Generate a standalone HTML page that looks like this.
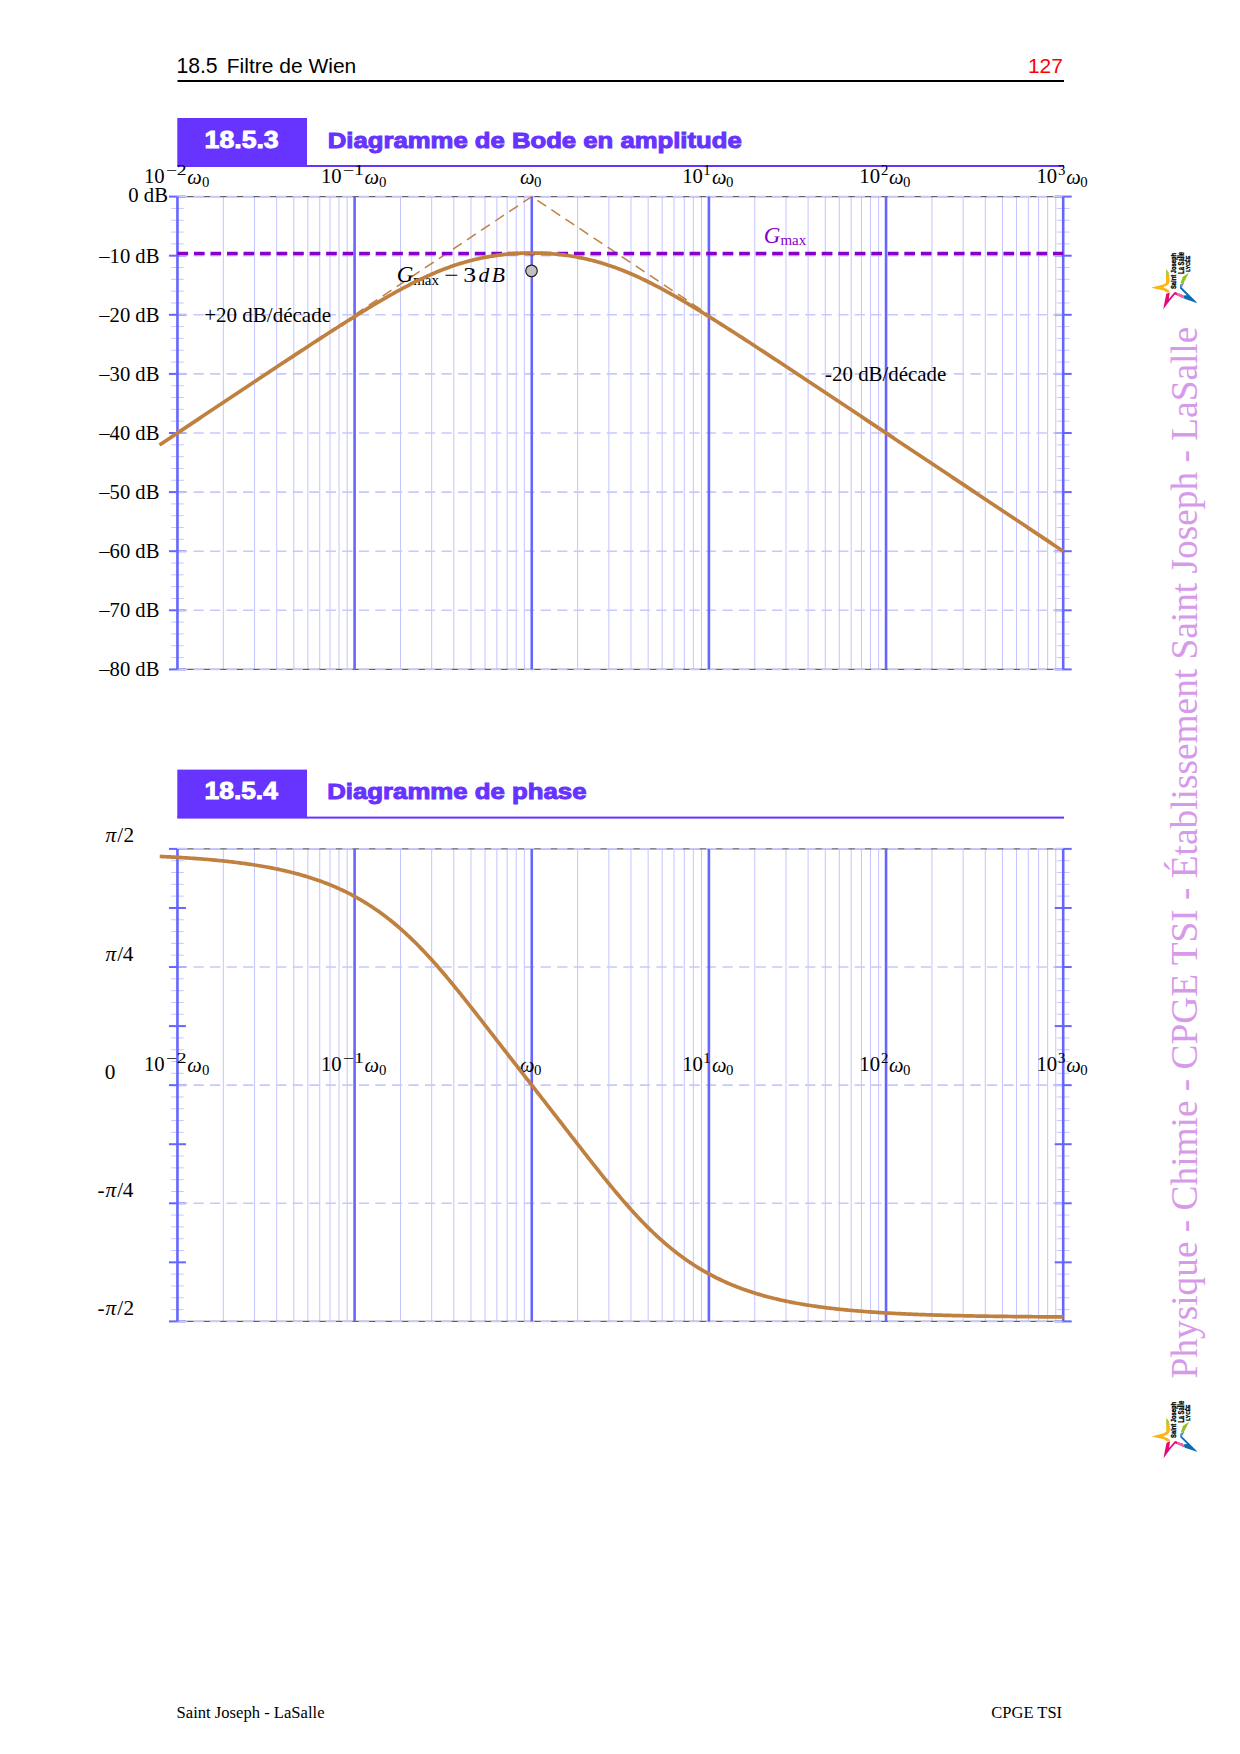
<!DOCTYPE html>
<html><head><meta charset="utf-8"><title>18.5 Filtre de Wien</title>
<style>html,body{margin:0;padding:0;background:#fff;width:1240px;height:1754px;overflow:hidden;position:relative}</style>
</head><body>
<svg width="1240" height="1754" viewBox="0 0 1240 1754" style="position:absolute;left:0;top:0"><rect width="1240" height="1754" fill="#fff"/><text x="176.39" y="73.10" font-family='"Liberation Sans", sans-serif' font-size="21.20" fill="#000" >18.5</text><text x="226.78" y="73.10" font-family='"Liberation Sans", sans-serif' font-size="21.00" fill="#000" >Filtre de Wien</text><text x="1027.92" y="73.10" font-family='"Liberation Sans", sans-serif' font-size="21.00" fill="#ff0000" >127</text><rect x="177.5" y="80" width="886.5" height="2" fill="#000"/><rect x="177.3" y="118.00" width="129.7" height="48" fill="#6633ff"/><rect x="177.3" y="165.00" width="886.7" height="2" fill="#6633ff"/><text x="0" y="0" transform="matrix(1.1595 0 0 1 204.57 147.55)" font-family='"Liberation Sans", sans-serif' font-size="23.00" font-weight="bold" fill="#fff" stroke="#fff" stroke-width="0.9">18.5.3</text><text x="0" y="0" transform="matrix(1.1472 0 0 1 327.78 147.50)" font-family='"Liberation Sans", sans-serif' font-size="22.40" font-weight="bold" fill="#6633ff" stroke="#6633ff" stroke-width="1.0">Diagramme de Bode en amplitude</text><rect x="177.3" y="769.60" width="129.7" height="48" fill="#6633ff"/><rect x="177.3" y="816.60" width="886.7" height="2" fill="#6633ff"/><text x="0" y="0" transform="matrix(1.1463 0 0 1 204.59 799.15)" font-family='"Liberation Sans", sans-serif' font-size="23.00" font-weight="bold" fill="#fff" stroke="#fff" stroke-width="0.9">18.5.4</text><text x="0" y="0" transform="matrix(1.1517 0 0 1 327.17 799.10)" font-family='"Liberation Sans", sans-serif' font-size="22.40" font-weight="bold" fill="#6633ff" stroke="#6633ff" stroke-width="1.0">Diagramme de phase</text><line x1="223.34" y1="196.60" x2="223.34" y2="669.40" stroke="#c4c4ff" stroke-width="1"/><line x1="254.53" y1="196.60" x2="254.53" y2="669.40" stroke="#c4c4ff" stroke-width="1"/><line x1="276.66" y1="196.60" x2="276.66" y2="669.40" stroke="#c4c4ff" stroke-width="1"/><line x1="293.83" y1="196.60" x2="293.83" y2="669.40" stroke="#c4c4ff" stroke-width="1"/><line x1="307.86" y1="196.60" x2="307.86" y2="669.40" stroke="#c4c4ff" stroke-width="1"/><line x1="319.72" y1="196.60" x2="319.72" y2="669.40" stroke="#c4c4ff" stroke-width="1"/><line x1="329.99" y1="196.60" x2="329.99" y2="669.40" stroke="#c4c4ff" stroke-width="1"/><line x1="339.05" y1="196.60" x2="339.05" y2="669.40" stroke="#c4c4ff" stroke-width="1"/><line x1="347.16" y1="196.60" x2="347.16" y2="669.40" stroke="#c4c4ff" stroke-width="1"/><line x1="400.49" y1="196.60" x2="400.49" y2="669.40" stroke="#c4c4ff" stroke-width="1"/><line x1="431.68" y1="196.60" x2="431.68" y2="669.40" stroke="#c4c4ff" stroke-width="1"/><line x1="453.81" y1="196.60" x2="453.81" y2="669.40" stroke="#c4c4ff" stroke-width="1"/><line x1="470.98" y1="196.60" x2="470.98" y2="669.40" stroke="#c4c4ff" stroke-width="1"/><line x1="485.01" y1="196.60" x2="485.01" y2="669.40" stroke="#c4c4ff" stroke-width="1"/><line x1="496.87" y1="196.60" x2="496.87" y2="669.40" stroke="#c4c4ff" stroke-width="1"/><line x1="507.14" y1="196.60" x2="507.14" y2="669.40" stroke="#c4c4ff" stroke-width="1"/><line x1="516.20" y1="196.60" x2="516.20" y2="669.40" stroke="#c4c4ff" stroke-width="1"/><line x1="524.31" y1="196.60" x2="524.31" y2="669.40" stroke="#c4c4ff" stroke-width="1"/><line x1="577.64" y1="196.60" x2="577.64" y2="669.40" stroke="#c4c4ff" stroke-width="1"/><line x1="608.83" y1="196.60" x2="608.83" y2="669.40" stroke="#c4c4ff" stroke-width="1"/><line x1="630.96" y1="196.60" x2="630.96" y2="669.40" stroke="#c4c4ff" stroke-width="1"/><line x1="648.13" y1="196.60" x2="648.13" y2="669.40" stroke="#c4c4ff" stroke-width="1"/><line x1="662.16" y1="196.60" x2="662.16" y2="669.40" stroke="#c4c4ff" stroke-width="1"/><line x1="674.02" y1="196.60" x2="674.02" y2="669.40" stroke="#c4c4ff" stroke-width="1"/><line x1="684.29" y1="196.60" x2="684.29" y2="669.40" stroke="#c4c4ff" stroke-width="1"/><line x1="693.35" y1="196.60" x2="693.35" y2="669.40" stroke="#c4c4ff" stroke-width="1"/><line x1="701.46" y1="196.60" x2="701.46" y2="669.40" stroke="#c4c4ff" stroke-width="1"/><line x1="754.79" y1="196.60" x2="754.79" y2="669.40" stroke="#c4c4ff" stroke-width="1"/><line x1="785.98" y1="196.60" x2="785.98" y2="669.40" stroke="#c4c4ff" stroke-width="1"/><line x1="808.11" y1="196.60" x2="808.11" y2="669.40" stroke="#c4c4ff" stroke-width="1"/><line x1="825.28" y1="196.60" x2="825.28" y2="669.40" stroke="#c4c4ff" stroke-width="1"/><line x1="839.31" y1="196.60" x2="839.31" y2="669.40" stroke="#c4c4ff" stroke-width="1"/><line x1="851.17" y1="196.60" x2="851.17" y2="669.40" stroke="#c4c4ff" stroke-width="1"/><line x1="861.44" y1="196.60" x2="861.44" y2="669.40" stroke="#c4c4ff" stroke-width="1"/><line x1="870.50" y1="196.60" x2="870.50" y2="669.40" stroke="#c4c4ff" stroke-width="1"/><line x1="878.61" y1="196.60" x2="878.61" y2="669.40" stroke="#c4c4ff" stroke-width="1"/><line x1="931.94" y1="196.60" x2="931.94" y2="669.40" stroke="#c4c4ff" stroke-width="1"/><line x1="963.13" y1="196.60" x2="963.13" y2="669.40" stroke="#c4c4ff" stroke-width="1"/><line x1="985.26" y1="196.60" x2="985.26" y2="669.40" stroke="#c4c4ff" stroke-width="1"/><line x1="1002.43" y1="196.60" x2="1002.43" y2="669.40" stroke="#c4c4ff" stroke-width="1"/><line x1="1016.46" y1="196.60" x2="1016.46" y2="669.40" stroke="#c4c4ff" stroke-width="1"/><line x1="1028.32" y1="196.60" x2="1028.32" y2="669.40" stroke="#c4c4ff" stroke-width="1"/><line x1="1038.59" y1="196.60" x2="1038.59" y2="669.40" stroke="#c4c4ff" stroke-width="1"/><line x1="1047.65" y1="196.60" x2="1047.65" y2="669.40" stroke="#c4c4ff" stroke-width="1"/><line x1="1055.76" y1="196.60" x2="1055.76" y2="669.40" stroke="#c4c4ff" stroke-width="1"/><line x1="168.95" y1="196.60" x2="185.95" y2="196.60" stroke="#6666ff" stroke-width="2"/><line x1="168.95" y1="255.70" x2="185.95" y2="255.70" stroke="#6666ff" stroke-width="2"/><line x1="168.95" y1="314.80" x2="185.95" y2="314.80" stroke="#6666ff" stroke-width="2"/><line x1="168.95" y1="373.90" x2="185.95" y2="373.90" stroke="#6666ff" stroke-width="2"/><line x1="168.95" y1="433.00" x2="185.95" y2="433.00" stroke="#6666ff" stroke-width="2"/><line x1="168.95" y1="492.10" x2="185.95" y2="492.10" stroke="#6666ff" stroke-width="2"/><line x1="168.95" y1="551.20" x2="185.95" y2="551.20" stroke="#6666ff" stroke-width="2"/><line x1="168.95" y1="610.30" x2="185.95" y2="610.30" stroke="#6666ff" stroke-width="2"/><line x1="168.95" y1="669.40" x2="185.95" y2="669.40" stroke="#6666ff" stroke-width="2"/><line x1="171.15" y1="208.42" x2="183.75" y2="208.42" stroke="#c0c0ff" stroke-width="0.9"/><line x1="171.15" y1="220.24" x2="183.75" y2="220.24" stroke="#c0c0ff" stroke-width="0.9"/><line x1="171.15" y1="232.06" x2="183.75" y2="232.06" stroke="#c0c0ff" stroke-width="0.9"/><line x1="171.15" y1="243.88" x2="183.75" y2="243.88" stroke="#c0c0ff" stroke-width="0.9"/><line x1="171.15" y1="267.52" x2="183.75" y2="267.52" stroke="#c0c0ff" stroke-width="0.9"/><line x1="171.15" y1="279.34" x2="183.75" y2="279.34" stroke="#c0c0ff" stroke-width="0.9"/><line x1="171.15" y1="291.16" x2="183.75" y2="291.16" stroke="#c0c0ff" stroke-width="0.9"/><line x1="171.15" y1="302.98" x2="183.75" y2="302.98" stroke="#c0c0ff" stroke-width="0.9"/><line x1="171.15" y1="326.62" x2="183.75" y2="326.62" stroke="#c0c0ff" stroke-width="0.9"/><line x1="171.15" y1="338.44" x2="183.75" y2="338.44" stroke="#c0c0ff" stroke-width="0.9"/><line x1="171.15" y1="350.26" x2="183.75" y2="350.26" stroke="#c0c0ff" stroke-width="0.9"/><line x1="171.15" y1="362.08" x2="183.75" y2="362.08" stroke="#c0c0ff" stroke-width="0.9"/><line x1="171.15" y1="385.72" x2="183.75" y2="385.72" stroke="#c0c0ff" stroke-width="0.9"/><line x1="171.15" y1="397.54" x2="183.75" y2="397.54" stroke="#c0c0ff" stroke-width="0.9"/><line x1="171.15" y1="409.36" x2="183.75" y2="409.36" stroke="#c0c0ff" stroke-width="0.9"/><line x1="171.15" y1="421.18" x2="183.75" y2="421.18" stroke="#c0c0ff" stroke-width="0.9"/><line x1="171.15" y1="444.82" x2="183.75" y2="444.82" stroke="#c0c0ff" stroke-width="0.9"/><line x1="171.15" y1="456.64" x2="183.75" y2="456.64" stroke="#c0c0ff" stroke-width="0.9"/><line x1="171.15" y1="468.46" x2="183.75" y2="468.46" stroke="#c0c0ff" stroke-width="0.9"/><line x1="171.15" y1="480.28" x2="183.75" y2="480.28" stroke="#c0c0ff" stroke-width="0.9"/><line x1="171.15" y1="503.92" x2="183.75" y2="503.92" stroke="#c0c0ff" stroke-width="0.9"/><line x1="171.15" y1="515.74" x2="183.75" y2="515.74" stroke="#c0c0ff" stroke-width="0.9"/><line x1="171.15" y1="527.56" x2="183.75" y2="527.56" stroke="#c0c0ff" stroke-width="0.9"/><line x1="171.15" y1="539.38" x2="183.75" y2="539.38" stroke="#c0c0ff" stroke-width="0.9"/><line x1="171.15" y1="563.02" x2="183.75" y2="563.02" stroke="#c0c0ff" stroke-width="0.9"/><line x1="171.15" y1="574.84" x2="183.75" y2="574.84" stroke="#c0c0ff" stroke-width="0.9"/><line x1="171.15" y1="586.66" x2="183.75" y2="586.66" stroke="#c0c0ff" stroke-width="0.9"/><line x1="171.15" y1="598.48" x2="183.75" y2="598.48" stroke="#c0c0ff" stroke-width="0.9"/><line x1="171.15" y1="622.12" x2="183.75" y2="622.12" stroke="#c0c0ff" stroke-width="0.9"/><line x1="171.15" y1="633.94" x2="183.75" y2="633.94" stroke="#c0c0ff" stroke-width="0.9"/><line x1="171.15" y1="645.76" x2="183.75" y2="645.76" stroke="#c0c0ff" stroke-width="0.9"/><line x1="171.15" y1="657.58" x2="183.75" y2="657.58" stroke="#c0c0ff" stroke-width="0.9"/><line x1="1054.70" y1="196.60" x2="1071.70" y2="196.60" stroke="#6666ff" stroke-width="2"/><line x1="1054.70" y1="255.70" x2="1071.70" y2="255.70" stroke="#6666ff" stroke-width="2"/><line x1="1054.70" y1="314.80" x2="1071.70" y2="314.80" stroke="#6666ff" stroke-width="2"/><line x1="1054.70" y1="373.90" x2="1071.70" y2="373.90" stroke="#6666ff" stroke-width="2"/><line x1="1054.70" y1="433.00" x2="1071.70" y2="433.00" stroke="#6666ff" stroke-width="2"/><line x1="1054.70" y1="492.10" x2="1071.70" y2="492.10" stroke="#6666ff" stroke-width="2"/><line x1="1054.70" y1="551.20" x2="1071.70" y2="551.20" stroke="#6666ff" stroke-width="2"/><line x1="1054.70" y1="610.30" x2="1071.70" y2="610.30" stroke="#6666ff" stroke-width="2"/><line x1="1054.70" y1="669.40" x2="1071.70" y2="669.40" stroke="#6666ff" stroke-width="2"/><line x1="1056.90" y1="208.42" x2="1069.50" y2="208.42" stroke="#c0c0ff" stroke-width="0.9"/><line x1="1056.90" y1="220.24" x2="1069.50" y2="220.24" stroke="#c0c0ff" stroke-width="0.9"/><line x1="1056.90" y1="232.06" x2="1069.50" y2="232.06" stroke="#c0c0ff" stroke-width="0.9"/><line x1="1056.90" y1="243.88" x2="1069.50" y2="243.88" stroke="#c0c0ff" stroke-width="0.9"/><line x1="1056.90" y1="267.52" x2="1069.50" y2="267.52" stroke="#c0c0ff" stroke-width="0.9"/><line x1="1056.90" y1="279.34" x2="1069.50" y2="279.34" stroke="#c0c0ff" stroke-width="0.9"/><line x1="1056.90" y1="291.16" x2="1069.50" y2="291.16" stroke="#c0c0ff" stroke-width="0.9"/><line x1="1056.90" y1="302.98" x2="1069.50" y2="302.98" stroke="#c0c0ff" stroke-width="0.9"/><line x1="1056.90" y1="326.62" x2="1069.50" y2="326.62" stroke="#c0c0ff" stroke-width="0.9"/><line x1="1056.90" y1="338.44" x2="1069.50" y2="338.44" stroke="#c0c0ff" stroke-width="0.9"/><line x1="1056.90" y1="350.26" x2="1069.50" y2="350.26" stroke="#c0c0ff" stroke-width="0.9"/><line x1="1056.90" y1="362.08" x2="1069.50" y2="362.08" stroke="#c0c0ff" stroke-width="0.9"/><line x1="1056.90" y1="385.72" x2="1069.50" y2="385.72" stroke="#c0c0ff" stroke-width="0.9"/><line x1="1056.90" y1="397.54" x2="1069.50" y2="397.54" stroke="#c0c0ff" stroke-width="0.9"/><line x1="1056.90" y1="409.36" x2="1069.50" y2="409.36" stroke="#c0c0ff" stroke-width="0.9"/><line x1="1056.90" y1="421.18" x2="1069.50" y2="421.18" stroke="#c0c0ff" stroke-width="0.9"/><line x1="1056.90" y1="444.82" x2="1069.50" y2="444.82" stroke="#c0c0ff" stroke-width="0.9"/><line x1="1056.90" y1="456.64" x2="1069.50" y2="456.64" stroke="#c0c0ff" stroke-width="0.9"/><line x1="1056.90" y1="468.46" x2="1069.50" y2="468.46" stroke="#c0c0ff" stroke-width="0.9"/><line x1="1056.90" y1="480.28" x2="1069.50" y2="480.28" stroke="#c0c0ff" stroke-width="0.9"/><line x1="1056.90" y1="503.92" x2="1069.50" y2="503.92" stroke="#c0c0ff" stroke-width="0.9"/><line x1="1056.90" y1="515.74" x2="1069.50" y2="515.74" stroke="#c0c0ff" stroke-width="0.9"/><line x1="1056.90" y1="527.56" x2="1069.50" y2="527.56" stroke="#c0c0ff" stroke-width="0.9"/><line x1="1056.90" y1="539.38" x2="1069.50" y2="539.38" stroke="#c0c0ff" stroke-width="0.9"/><line x1="1056.90" y1="563.02" x2="1069.50" y2="563.02" stroke="#c0c0ff" stroke-width="0.9"/><line x1="1056.90" y1="574.84" x2="1069.50" y2="574.84" stroke="#c0c0ff" stroke-width="0.9"/><line x1="1056.90" y1="586.66" x2="1069.50" y2="586.66" stroke="#c0c0ff" stroke-width="0.9"/><line x1="1056.90" y1="598.48" x2="1069.50" y2="598.48" stroke="#c0c0ff" stroke-width="0.9"/><line x1="1056.90" y1="622.12" x2="1069.50" y2="622.12" stroke="#c0c0ff" stroke-width="0.9"/><line x1="1056.90" y1="633.94" x2="1069.50" y2="633.94" stroke="#c0c0ff" stroke-width="0.9"/><line x1="1056.90" y1="645.76" x2="1069.50" y2="645.76" stroke="#c0c0ff" stroke-width="0.9"/><line x1="1056.90" y1="657.58" x2="1069.50" y2="657.58" stroke="#c0c0ff" stroke-width="0.9"/><line x1="177.45" y1="196.60" x2="1063.20" y2="196.60" stroke="#606060" stroke-width="1.3"/><line x1="176.95" y1="196.60" x2="1063.20" y2="196.60" stroke="#c8c8ff" stroke-width="1.6" stroke-dasharray="10.3 6.23"/><line x1="177.45" y1="669.40" x2="1063.20" y2="669.40" stroke="#606060" stroke-width="1.3"/><line x1="176.95" y1="669.40" x2="1063.20" y2="669.40" stroke="#c8c8ff" stroke-width="1.6" stroke-dasharray="10.3 6.23"/><line x1="176.95" y1="255.70" x2="1063.20" y2="255.70" stroke="#c8c8ff" stroke-width="1.6" stroke-dasharray="10.3 6.23"/><line x1="176.95" y1="314.80" x2="1063.20" y2="314.80" stroke="#c8c8ff" stroke-width="1.6" stroke-dasharray="10.3 6.23"/><line x1="176.95" y1="373.90" x2="1063.20" y2="373.90" stroke="#c8c8ff" stroke-width="1.6" stroke-dasharray="10.3 6.23"/><line x1="176.95" y1="433.00" x2="1063.20" y2="433.00" stroke="#c8c8ff" stroke-width="1.6" stroke-dasharray="10.3 6.23"/><line x1="176.95" y1="492.10" x2="1063.20" y2="492.10" stroke="#c8c8ff" stroke-width="1.6" stroke-dasharray="10.3 6.23"/><line x1="176.95" y1="551.20" x2="1063.20" y2="551.20" stroke="#c8c8ff" stroke-width="1.6" stroke-dasharray="10.3 6.23"/><line x1="176.95" y1="610.30" x2="1063.20" y2="610.30" stroke="#c8c8ff" stroke-width="1.6" stroke-dasharray="10.3 6.23"/><line x1="177.45" y1="196.60" x2="177.45" y2="669.40" stroke="#6666ff" stroke-width="2.6"/><line x1="354.60" y1="196.60" x2="354.60" y2="669.40" stroke="#6666ff" stroke-width="2.6"/><line x1="531.75" y1="196.60" x2="531.75" y2="669.40" stroke="#6666ff" stroke-width="2.6"/><line x1="708.90" y1="196.60" x2="708.90" y2="669.40" stroke="#6666ff" stroke-width="2.6"/><line x1="886.05" y1="196.60" x2="886.05" y2="669.40" stroke="#6666ff" stroke-width="2.6"/><line x1="1063.20" y1="196.60" x2="1063.20" y2="669.40" stroke="#6666ff" stroke-width="2.6"/><text x="143.88" y="183.20" font-family='"Liberation Serif", serif' font-size="20.70" fill="#000" >10</text><text x="0" y="0" transform="matrix(1.3316 0 0 1 165.72 175.00)" font-family='"Liberation Serif", serif' font-size="14.80" fill="#000" >−2</text><text x="187.32" y="183.80" font-family='"Liberation Serif", serif' font-size="20.50" font-style="italic" fill="#000" >ω</text><text x="201.89" y="186.80" font-family='"Liberation Serif", serif' font-size="14.80" fill="#000" >0</text><text x="321.03" y="183.20" font-family='"Liberation Serif", serif' font-size="20.70" fill="#000" >10</text><text x="0" y="0" transform="matrix(1.3385 0 0 1 342.86 175.00)" font-family='"Liberation Serif", serif' font-size="14.80" fill="#000" >−1</text><text x="364.47" y="183.80" font-family='"Liberation Serif", serif' font-size="20.50" font-style="italic" fill="#000" >ω</text><text x="379.04" y="186.80" font-family='"Liberation Serif", serif' font-size="14.80" fill="#000" >0</text><text x="520.12" y="183.80" font-family='"Liberation Serif", serif' font-size="20.50" font-style="italic" fill="#000" >ω</text><text x="534.04" y="186.80" font-family='"Liberation Serif", serif' font-size="14.80" fill="#000" >0</text><text x="682.18" y="183.20" font-family='"Liberation Serif", serif' font-size="20.70" fill="#000" >10</text><text x="703.15" y="175.00" font-family='"Liberation Serif", serif' font-size="14.80" fill="#000" >1</text><text x="711.97" y="183.80" font-family='"Liberation Serif", serif' font-size="20.50" font-style="italic" fill="#000" >ω</text><text x="725.94" y="186.80" font-family='"Liberation Serif", serif' font-size="14.80" fill="#000" >0</text><text x="859.33" y="183.20" font-family='"Liberation Serif", serif' font-size="20.70" fill="#000" >10</text><text x="880.95" y="175.00" font-family='"Liberation Serif", serif' font-size="14.80" fill="#000" >2</text><text x="889.12" y="183.80" font-family='"Liberation Serif", serif' font-size="20.50" font-style="italic" fill="#000" >ω</text><text x="903.09" y="186.80" font-family='"Liberation Serif", serif' font-size="14.80" fill="#000" >0</text><text x="1036.48" y="183.20" font-family='"Liberation Serif", serif' font-size="20.70" fill="#000" >10</text><text x="1058.04" y="175.00" font-family='"Liberation Serif", serif' font-size="14.80" fill="#000" >3</text><text x="1066.27" y="183.80" font-family='"Liberation Serif", serif' font-size="20.50" font-style="italic" fill="#000" >ω</text><text x="1080.24" y="186.80" font-family='"Liberation Serif", serif' font-size="14.80" fill="#000" >0</text><text x="128.33" y="201.80" font-family='"Liberation Serif", serif' font-size="20.70" fill="#000" >0 dB</text><text x="99.32" y="263.30" font-family='"Liberation Serif", serif' font-size="20.60" fill="#000" >–10 dB</text><text x="99.32" y="322.22" font-family='"Liberation Serif", serif' font-size="20.60" fill="#000" >–20 dB</text><text x="99.32" y="381.14" font-family='"Liberation Serif", serif' font-size="20.60" fill="#000" >–30 dB</text><text x="99.32" y="440.06" font-family='"Liberation Serif", serif' font-size="20.60" fill="#000" >–40 dB</text><text x="99.32" y="498.98" font-family='"Liberation Serif", serif' font-size="20.60" fill="#000" >–50 dB</text><text x="99.32" y="557.90" font-family='"Liberation Serif", serif' font-size="20.60" fill="#000" >–60 dB</text><text x="99.32" y="616.82" font-family='"Liberation Serif", serif' font-size="20.60" fill="#000" >–70 dB</text><text x="99.32" y="675.74" font-family='"Liberation Serif", serif' font-size="20.60" fill="#000" >–80 dB</text><polyline points="354.60,314.80 531.75,196.60 708.90,314.80" fill="none" stroke="#bf8040" stroke-width="1.5" stroke-dasharray="10.5 6.4"/><line x1="177.45" y1="253.50" x2="1063.20" y2="253.50" stroke="#8800cc" stroke-width="3.3" stroke-dasharray="10.7 5.82"/><text x="396.63" y="281.60" font-family='"Liberation Serif", serif' font-size="23.00" font-style="italic" fill="#000" >G</text><text x="413.19" y="284.60" font-family='"Liberation Serif", serif' font-size="15.00" fill="#000" >max</text><text x="0" y="0" transform="matrix(1.2000 0 0 1 444.34 281.60)" font-family='"Liberation Serif", serif' font-size="21.00" fill="#000" >−</text><text x="0" y="0" transform="matrix(1.2000 0 0 1 463.17 281.60)" font-family='"Liberation Serif", serif' font-size="21.50" fill="#000" >3</text><text x="478.55" y="281.60" font-family='"Liberation Serif", serif' font-size="21.50" font-style="italic" fill="#000" >d</text><text x="491.74" y="281.60" font-family='"Liberation Serif", serif' font-size="21.50" font-style="italic" fill="#000" >B</text><polyline points="159.56,444.95 161.06,443.95 162.57,442.94 164.08,441.94 165.58,440.93 167.09,439.93 168.59,438.92 170.10,437.92 171.61,436.91 173.11,435.91 174.62,434.91 176.12,433.90 177.63,432.90 179.14,431.89 180.64,430.89 182.15,429.89 183.65,428.88 185.16,427.88 186.67,426.87 188.17,425.87 189.68,424.86 191.19,423.86 192.69,422.86 194.20,421.85 195.70,420.85 197.21,419.85 198.72,418.84 200.22,417.84 201.73,416.83 203.23,415.83 204.74,414.83 206.25,413.82 207.75,412.82 209.26,411.82 210.76,410.81 212.27,409.81 213.78,408.81 215.28,407.81 216.79,406.80 218.29,405.80 219.80,404.80 221.31,403.79 222.81,402.79 224.32,401.79 225.82,400.79 227.33,399.78 228.84,398.78 230.34,397.78 231.85,396.78 233.36,395.77 234.86,394.77 236.37,393.77 237.87,392.77 239.38,391.77 240.89,390.77 242.39,389.77 243.90,388.76 245.40,387.76 246.91,386.76 248.42,385.76 249.92,384.76 251.43,383.76 252.93,382.76 254.44,381.76 255.95,380.76 257.45,379.76 258.96,378.76 260.46,377.77 261.97,376.77 263.48,375.77 264.98,374.77 266.49,373.77 267.99,372.77 269.50,371.78 271.01,370.78 272.51,369.78 274.02,368.79 275.53,367.79 277.03,366.79 278.54,365.80 280.04,364.80 281.55,363.81 283.06,362.81 284.56,361.82 286.07,360.83 287.57,359.83 289.08,358.84 290.59,357.85 292.09,356.86 293.60,355.87 295.10,354.88 296.61,353.89 298.12,352.90 299.62,351.91 301.13,350.92 302.63,349.93 304.14,348.95 305.65,347.96 307.15,346.98 308.66,345.99 310.16,345.01 311.67,344.03 313.18,343.04 314.68,342.06 316.19,341.08 317.70,340.10 319.20,339.13 320.71,338.15 322.21,337.17 323.72,336.20 325.23,335.22 326.73,334.25 328.24,333.28 329.74,332.31 331.25,331.34 332.76,330.37 334.26,329.41 335.77,328.44 337.27,327.48 338.78,326.52 340.29,325.56 341.79,324.60 343.30,323.65 344.80,322.69 346.31,321.74 347.82,320.79 349.32,319.84 350.83,318.90 352.33,317.95 353.84,317.01 355.35,316.07 356.85,315.14 358.36,314.20 359.87,313.27 361.37,312.34 362.88,311.42 364.38,310.49 365.89,309.57 367.40,308.66 368.90,307.74 370.41,306.83 371.91,305.93 373.42,305.02 374.93,304.12 376.43,303.23 377.94,302.34 379.44,301.45 380.95,300.56 382.46,299.69 383.96,298.81 385.47,297.94 386.97,297.07 388.48,296.21 389.99,295.36 391.49,294.50 393.00,293.66 394.50,292.82 396.01,291.98 397.52,291.15 399.02,290.33 400.53,289.51 402.04,288.70 403.54,287.89 405.05,287.10 406.55,286.30 408.06,285.52 409.57,284.74 411.07,283.97 412.58,283.20 414.08,282.45 415.59,281.70 417.10,280.95 418.60,280.22 420.11,279.49 421.61,278.78 423.12,278.07 424.63,277.36 426.13,276.67 427.64,275.99 429.14,275.31 430.65,274.65 432.16,273.99 433.66,273.34 435.17,272.70 436.67,272.07 438.18,271.45 439.69,270.84 441.19,270.24 442.70,269.65 444.21,269.07 445.71,268.50 447.22,267.95 448.72,267.40 450.23,266.86 451.74,266.33 453.24,265.81 454.75,265.30 456.25,264.81 457.76,264.32 459.27,263.84 460.77,263.38 462.28,262.92 463.78,262.48 465.29,262.05 466.80,261.62 468.30,261.21 469.81,260.81 471.31,260.42 472.82,260.04 474.33,259.67 475.83,259.31 477.34,258.97 478.84,258.63 480.35,258.30 481.86,257.99 483.36,257.68 484.87,257.38 486.38,257.10 487.88,256.82 489.39,256.56 490.89,256.30 492.40,256.06 493.91,255.82 495.41,255.60 496.92,255.38 498.42,255.18 499.93,254.98 501.44,254.80 502.94,254.62 504.45,254.45 505.95,254.29 507.46,254.14 508.97,254.01 510.47,253.88 511.98,253.75 513.48,253.64 514.99,253.54 516.50,253.45 518.00,253.36 519.51,253.29 521.01,253.22 522.52,253.16 524.03,253.11 525.53,253.07 527.04,253.04 528.55,253.02 530.05,253.00 531.56,253.00 533.06,253.00 534.57,253.01 536.08,253.03 537.58,253.06 539.09,253.10 540.59,253.15 542.10,253.20 543.61,253.27 545.11,253.34 546.62,253.42 548.12,253.52 549.63,253.62 551.14,253.73 552.64,253.84 554.15,253.97 555.65,254.11 557.16,254.25 558.67,254.41 560.17,254.58 561.68,254.75 563.18,254.93 564.69,255.13 566.20,255.33 567.70,255.54 569.21,255.77 570.72,256.00 572.22,256.24 573.73,256.49 575.23,256.76 576.74,257.03 578.25,257.31 579.75,257.60 581.26,257.91 582.76,258.22 584.27,258.54 585.78,258.88 587.28,259.22 588.79,259.58 590.29,259.95 591.80,260.32 593.31,260.71 594.81,261.11 596.32,261.52 597.82,261.94 599.33,262.37 600.84,262.81 602.34,263.26 603.85,263.72 605.35,264.20 606.86,264.68 608.37,265.17 609.87,265.68 611.38,266.19 612.88,266.72 614.39,267.26 615.90,267.80 617.40,268.36 618.91,268.93 620.42,269.50 621.92,270.09 623.43,270.69 624.93,271.30 626.44,271.91 627.95,272.54 629.45,273.18 630.96,273.82 632.46,274.48 633.97,275.14 635.48,275.81 636.98,276.50 638.49,277.19 639.99,277.89 641.50,278.59 643.01,279.31 644.51,280.03 646.02,280.77 647.52,281.51 649.03,282.25 650.54,283.01 652.04,283.77 653.55,284.54 655.05,285.32 656.56,286.10 658.07,286.89 659.57,287.69 661.08,288.49 662.59,289.30 664.09,290.12 665.60,290.94 667.10,291.77 668.61,292.60 670.12,293.44 671.62,294.29 673.13,295.14 674.63,295.99 676.14,296.85 677.65,297.72 679.15,298.59 680.66,299.46 682.16,300.34 683.67,301.22 685.18,302.11 686.68,303.00 688.19,303.89 689.69,304.79 691.20,305.70 692.71,306.60 694.21,307.51 695.72,308.42 697.22,309.34 698.73,310.26 700.24,311.18 701.74,312.11 703.25,313.03 704.76,313.96 706.26,314.90 707.77,315.83 709.27,316.77 710.78,317.71 712.29,318.66 713.79,319.60 715.30,320.55 716.80,321.50 718.31,322.45 719.82,323.40 721.32,324.36 722.83,325.32 724.33,326.27 725.84,327.24 727.35,328.20 728.85,329.16 730.36,330.13 731.86,331.09 733.37,332.06 734.88,333.03 736.38,334.00 737.89,334.97 739.39,335.95 740.90,336.92 742.41,337.90 743.91,338.88 745.42,339.85 746.93,340.83 748.43,341.81 749.94,342.79 751.44,343.77 752.95,344.76 754.46,345.74 755.96,346.72 757.47,347.71 758.97,348.70 760.48,349.68 761.99,350.67 763.49,351.66 765.00,352.65 766.50,353.63 768.01,354.62 769.52,355.61 771.02,356.60 772.53,357.60 774.03,358.59 775.54,359.58 777.05,360.57 778.55,361.57 780.06,362.56 781.56,363.55 783.07,364.55 784.58,365.54 786.08,366.54 787.59,367.54 789.10,368.53 790.60,369.53 792.11,370.52 793.61,371.52 795.12,372.52 796.63,373.52 798.13,374.51 799.64,375.51 801.14,376.51 802.65,377.51 804.16,378.51 805.66,379.51 807.17,380.51 808.67,381.51 810.18,382.51 811.69,383.51 813.19,384.51 814.70,385.51 816.20,386.51 817.71,387.51 819.22,388.51 820.72,389.51 822.23,390.51 823.73,391.51 825.24,392.51 826.75,393.51 828.25,394.52 829.76,395.52 831.27,396.52 832.77,397.52 834.28,398.52 835.78,399.53 837.29,400.53 838.80,401.53 840.30,402.53 841.81,403.54 843.31,404.54 844.82,405.54 846.33,406.55 847.83,407.55 849.34,408.55 850.84,409.55 852.35,410.56 853.86,411.56 855.36,412.56 856.87,413.57 858.37,414.57 859.88,415.57 861.39,416.58 862.89,417.58 864.40,418.59 865.90,419.59 867.41,420.59 868.92,421.60 870.42,422.60 871.93,423.60 873.44,424.61 874.94,425.61 876.45,426.62 877.95,427.62 879.46,428.62 880.97,429.63 882.47,430.63 883.98,431.64 885.48,432.64 886.99,433.64 888.50,434.65 890.00,435.65 891.51,436.66 893.01,437.66 894.52,438.67 896.03,439.67 897.53,440.67 899.04,441.68 900.54,442.68 902.05,443.69 903.56,444.69 905.06,445.70 906.57,446.70 908.07,447.71 909.58,448.71 911.09,449.71 912.59,450.72 914.10,451.72 915.61,452.73 917.11,453.73 918.62,454.74 920.12,455.74 921.63,456.75 923.14,457.75 924.64,458.76 926.15,459.76 927.65,460.77 929.16,461.77 930.67,462.77 932.17,463.78 933.68,464.78 935.18,465.79 936.69,466.79 938.20,467.80 939.70,468.80 941.21,469.81 942.71,470.81 944.22,471.82 945.73,472.82 947.23,473.83 948.74,474.83 950.24,475.84 951.75,476.84 953.26,477.85 954.76,478.85 956.27,479.86 957.78,480.86 959.28,481.86 960.79,482.87 962.29,483.87 963.80,484.88 965.31,485.88 966.81,486.89 968.32,487.89 969.82,488.90 971.33,489.90 972.84,490.91 974.34,491.91 975.85,492.92 977.35,493.92 978.86,494.93 980.37,495.93 981.87,496.94 983.38,497.94 984.88,498.95 986.39,499.95 987.90,500.96 989.40,501.96 990.91,502.97 992.41,503.97 993.92,504.98 995.43,505.98 996.93,506.99 998.44,507.99 999.95,509.00 1001.45,510.00 1002.96,511.00 1004.46,512.01 1005.97,513.01 1007.48,514.02 1008.98,515.02 1010.49,516.03 1011.99,517.03 1013.50,518.04 1015.01,519.04 1016.51,520.05 1018.02,521.05 1019.52,522.06 1021.03,523.06 1022.54,524.07 1024.04,525.07 1025.55,526.08 1027.05,527.08 1028.56,528.09 1030.07,529.09 1031.57,530.10 1033.08,531.10 1034.58,532.11 1036.09,533.11 1037.60,534.12 1039.10,535.12 1040.61,536.13 1042.12,537.13 1043.62,538.14 1045.13,539.14 1046.63,540.15 1048.14,541.15 1049.65,542.16 1051.15,543.16 1052.66,544.17 1054.16,545.17 1055.67,546.18 1057.18,547.18 1058.68,548.19 1060.19,549.19 1061.69,550.20 1063.20,551.20" fill="none" stroke="#bf8040" stroke-width="3.7" stroke-linejoin="round"/><circle cx="531.5" cy="270.85" r="5.8" fill="#c0c0c0" stroke="#222" stroke-width="1.2"/><text x="763.63" y="242.60" font-family='"Liberation Serif", serif' font-size="23.00" font-style="italic" fill="#8800cc" >G</text><text x="780.39" y="244.80" font-family='"Liberation Serif", serif' font-size="15.00" fill="#8800cc" >max</text><text x="204.25" y="321.90" font-family='"Liberation Serif", serif' font-size="21.00" fill="#000" >+20 dB/décade</text><text x="825.12" y="381.00" font-family='"Liberation Serif", serif' font-size="20.90" fill="#000" >-20 dB/décade</text><line x1="223.34" y1="848.90" x2="223.34" y2="1321.40" stroke="#c4c4ff" stroke-width="1"/><line x1="254.53" y1="848.90" x2="254.53" y2="1321.40" stroke="#c4c4ff" stroke-width="1"/><line x1="276.66" y1="848.90" x2="276.66" y2="1321.40" stroke="#c4c4ff" stroke-width="1"/><line x1="293.83" y1="848.90" x2="293.83" y2="1321.40" stroke="#c4c4ff" stroke-width="1"/><line x1="307.86" y1="848.90" x2="307.86" y2="1321.40" stroke="#c4c4ff" stroke-width="1"/><line x1="319.72" y1="848.90" x2="319.72" y2="1321.40" stroke="#c4c4ff" stroke-width="1"/><line x1="329.99" y1="848.90" x2="329.99" y2="1321.40" stroke="#c4c4ff" stroke-width="1"/><line x1="339.05" y1="848.90" x2="339.05" y2="1321.40" stroke="#c4c4ff" stroke-width="1"/><line x1="347.16" y1="848.90" x2="347.16" y2="1321.40" stroke="#c4c4ff" stroke-width="1"/><line x1="400.49" y1="848.90" x2="400.49" y2="1321.40" stroke="#c4c4ff" stroke-width="1"/><line x1="431.68" y1="848.90" x2="431.68" y2="1321.40" stroke="#c4c4ff" stroke-width="1"/><line x1="453.81" y1="848.90" x2="453.81" y2="1321.40" stroke="#c4c4ff" stroke-width="1"/><line x1="470.98" y1="848.90" x2="470.98" y2="1321.40" stroke="#c4c4ff" stroke-width="1"/><line x1="485.01" y1="848.90" x2="485.01" y2="1321.40" stroke="#c4c4ff" stroke-width="1"/><line x1="496.87" y1="848.90" x2="496.87" y2="1321.40" stroke="#c4c4ff" stroke-width="1"/><line x1="507.14" y1="848.90" x2="507.14" y2="1321.40" stroke="#c4c4ff" stroke-width="1"/><line x1="516.20" y1="848.90" x2="516.20" y2="1321.40" stroke="#c4c4ff" stroke-width="1"/><line x1="524.31" y1="848.90" x2="524.31" y2="1321.40" stroke="#c4c4ff" stroke-width="1"/><line x1="577.64" y1="848.90" x2="577.64" y2="1321.40" stroke="#c4c4ff" stroke-width="1"/><line x1="608.83" y1="848.90" x2="608.83" y2="1321.40" stroke="#c4c4ff" stroke-width="1"/><line x1="630.96" y1="848.90" x2="630.96" y2="1321.40" stroke="#c4c4ff" stroke-width="1"/><line x1="648.13" y1="848.90" x2="648.13" y2="1321.40" stroke="#c4c4ff" stroke-width="1"/><line x1="662.16" y1="848.90" x2="662.16" y2="1321.40" stroke="#c4c4ff" stroke-width="1"/><line x1="674.02" y1="848.90" x2="674.02" y2="1321.40" stroke="#c4c4ff" stroke-width="1"/><line x1="684.29" y1="848.90" x2="684.29" y2="1321.40" stroke="#c4c4ff" stroke-width="1"/><line x1="693.35" y1="848.90" x2="693.35" y2="1321.40" stroke="#c4c4ff" stroke-width="1"/><line x1="701.46" y1="848.90" x2="701.46" y2="1321.40" stroke="#c4c4ff" stroke-width="1"/><line x1="754.79" y1="848.90" x2="754.79" y2="1321.40" stroke="#c4c4ff" stroke-width="1"/><line x1="785.98" y1="848.90" x2="785.98" y2="1321.40" stroke="#c4c4ff" stroke-width="1"/><line x1="808.11" y1="848.90" x2="808.11" y2="1321.40" stroke="#c4c4ff" stroke-width="1"/><line x1="825.28" y1="848.90" x2="825.28" y2="1321.40" stroke="#c4c4ff" stroke-width="1"/><line x1="839.31" y1="848.90" x2="839.31" y2="1321.40" stroke="#c4c4ff" stroke-width="1"/><line x1="851.17" y1="848.90" x2="851.17" y2="1321.40" stroke="#c4c4ff" stroke-width="1"/><line x1="861.44" y1="848.90" x2="861.44" y2="1321.40" stroke="#c4c4ff" stroke-width="1"/><line x1="870.50" y1="848.90" x2="870.50" y2="1321.40" stroke="#c4c4ff" stroke-width="1"/><line x1="878.61" y1="848.90" x2="878.61" y2="1321.40" stroke="#c4c4ff" stroke-width="1"/><line x1="931.94" y1="848.90" x2="931.94" y2="1321.40" stroke="#c4c4ff" stroke-width="1"/><line x1="963.13" y1="848.90" x2="963.13" y2="1321.40" stroke="#c4c4ff" stroke-width="1"/><line x1="985.26" y1="848.90" x2="985.26" y2="1321.40" stroke="#c4c4ff" stroke-width="1"/><line x1="1002.43" y1="848.90" x2="1002.43" y2="1321.40" stroke="#c4c4ff" stroke-width="1"/><line x1="1016.46" y1="848.90" x2="1016.46" y2="1321.40" stroke="#c4c4ff" stroke-width="1"/><line x1="1028.32" y1="848.90" x2="1028.32" y2="1321.40" stroke="#c4c4ff" stroke-width="1"/><line x1="1038.59" y1="848.90" x2="1038.59" y2="1321.40" stroke="#c4c4ff" stroke-width="1"/><line x1="1047.65" y1="848.90" x2="1047.65" y2="1321.40" stroke="#c4c4ff" stroke-width="1"/><line x1="1055.76" y1="848.90" x2="1055.76" y2="1321.40" stroke="#c4c4ff" stroke-width="1"/><line x1="168.95" y1="1321.40" x2="185.95" y2="1321.40" stroke="#6666ff" stroke-width="2"/><line x1="168.95" y1="1262.34" x2="185.95" y2="1262.34" stroke="#6666ff" stroke-width="2"/><line x1="168.95" y1="1203.28" x2="185.95" y2="1203.28" stroke="#6666ff" stroke-width="2"/><line x1="168.95" y1="1144.21" x2="185.95" y2="1144.21" stroke="#6666ff" stroke-width="2"/><line x1="168.95" y1="1085.15" x2="185.95" y2="1085.15" stroke="#6666ff" stroke-width="2"/><line x1="168.95" y1="1026.09" x2="185.95" y2="1026.09" stroke="#6666ff" stroke-width="2"/><line x1="168.95" y1="967.03" x2="185.95" y2="967.03" stroke="#6666ff" stroke-width="2"/><line x1="168.95" y1="907.96" x2="185.95" y2="907.96" stroke="#6666ff" stroke-width="2"/><line x1="168.95" y1="848.90" x2="185.95" y2="848.90" stroke="#6666ff" stroke-width="2"/><line x1="171.15" y1="1309.59" x2="183.75" y2="1309.59" stroke="#c0c0ff" stroke-width="0.9"/><line x1="171.15" y1="1297.78" x2="183.75" y2="1297.78" stroke="#c0c0ff" stroke-width="0.9"/><line x1="171.15" y1="1285.96" x2="183.75" y2="1285.96" stroke="#c0c0ff" stroke-width="0.9"/><line x1="171.15" y1="1274.15" x2="183.75" y2="1274.15" stroke="#c0c0ff" stroke-width="0.9"/><line x1="171.15" y1="1250.53" x2="183.75" y2="1250.53" stroke="#c0c0ff" stroke-width="0.9"/><line x1="171.15" y1="1238.71" x2="183.75" y2="1238.71" stroke="#c0c0ff" stroke-width="0.9"/><line x1="171.15" y1="1226.90" x2="183.75" y2="1226.90" stroke="#c0c0ff" stroke-width="0.9"/><line x1="171.15" y1="1215.09" x2="183.75" y2="1215.09" stroke="#c0c0ff" stroke-width="0.9"/><line x1="171.15" y1="1191.46" x2="183.75" y2="1191.46" stroke="#c0c0ff" stroke-width="0.9"/><line x1="171.15" y1="1179.65" x2="183.75" y2="1179.65" stroke="#c0c0ff" stroke-width="0.9"/><line x1="171.15" y1="1167.84" x2="183.75" y2="1167.84" stroke="#c0c0ff" stroke-width="0.9"/><line x1="171.15" y1="1156.03" x2="183.75" y2="1156.03" stroke="#c0c0ff" stroke-width="0.9"/><line x1="171.15" y1="1132.40" x2="183.75" y2="1132.40" stroke="#c0c0ff" stroke-width="0.9"/><line x1="171.15" y1="1120.59" x2="183.75" y2="1120.59" stroke="#c0c0ff" stroke-width="0.9"/><line x1="171.15" y1="1108.78" x2="183.75" y2="1108.78" stroke="#c0c0ff" stroke-width="0.9"/><line x1="171.15" y1="1096.96" x2="183.75" y2="1096.96" stroke="#c0c0ff" stroke-width="0.9"/><line x1="171.15" y1="1073.34" x2="183.75" y2="1073.34" stroke="#c0c0ff" stroke-width="0.9"/><line x1="171.15" y1="1061.53" x2="183.75" y2="1061.53" stroke="#c0c0ff" stroke-width="0.9"/><line x1="171.15" y1="1049.71" x2="183.75" y2="1049.71" stroke="#c0c0ff" stroke-width="0.9"/><line x1="171.15" y1="1037.90" x2="183.75" y2="1037.90" stroke="#c0c0ff" stroke-width="0.9"/><line x1="171.15" y1="1014.28" x2="183.75" y2="1014.28" stroke="#c0c0ff" stroke-width="0.9"/><line x1="171.15" y1="1002.46" x2="183.75" y2="1002.46" stroke="#c0c0ff" stroke-width="0.9"/><line x1="171.15" y1="990.65" x2="183.75" y2="990.65" stroke="#c0c0ff" stroke-width="0.9"/><line x1="171.15" y1="978.84" x2="183.75" y2="978.84" stroke="#c0c0ff" stroke-width="0.9"/><line x1="171.15" y1="955.21" x2="183.75" y2="955.21" stroke="#c0c0ff" stroke-width="0.9"/><line x1="171.15" y1="943.40" x2="183.75" y2="943.40" stroke="#c0c0ff" stroke-width="0.9"/><line x1="171.15" y1="931.59" x2="183.75" y2="931.59" stroke="#c0c0ff" stroke-width="0.9"/><line x1="171.15" y1="919.78" x2="183.75" y2="919.78" stroke="#c0c0ff" stroke-width="0.9"/><line x1="171.15" y1="896.15" x2="183.75" y2="896.15" stroke="#c0c0ff" stroke-width="0.9"/><line x1="171.15" y1="884.34" x2="183.75" y2="884.34" stroke="#c0c0ff" stroke-width="0.9"/><line x1="171.15" y1="872.53" x2="183.75" y2="872.53" stroke="#c0c0ff" stroke-width="0.9"/><line x1="171.15" y1="860.71" x2="183.75" y2="860.71" stroke="#c0c0ff" stroke-width="0.9"/><line x1="1054.70" y1="1321.40" x2="1071.70" y2="1321.40" stroke="#6666ff" stroke-width="2"/><line x1="1054.70" y1="1262.34" x2="1071.70" y2="1262.34" stroke="#6666ff" stroke-width="2"/><line x1="1054.70" y1="1203.28" x2="1071.70" y2="1203.28" stroke="#6666ff" stroke-width="2"/><line x1="1054.70" y1="1144.21" x2="1071.70" y2="1144.21" stroke="#6666ff" stroke-width="2"/><line x1="1054.70" y1="1085.15" x2="1071.70" y2="1085.15" stroke="#6666ff" stroke-width="2"/><line x1="1054.70" y1="1026.09" x2="1071.70" y2="1026.09" stroke="#6666ff" stroke-width="2"/><line x1="1054.70" y1="967.03" x2="1071.70" y2="967.03" stroke="#6666ff" stroke-width="2"/><line x1="1054.70" y1="907.96" x2="1071.70" y2="907.96" stroke="#6666ff" stroke-width="2"/><line x1="1054.70" y1="848.90" x2="1071.70" y2="848.90" stroke="#6666ff" stroke-width="2"/><line x1="1056.90" y1="1309.59" x2="1069.50" y2="1309.59" stroke="#c0c0ff" stroke-width="0.9"/><line x1="1056.90" y1="1297.78" x2="1069.50" y2="1297.78" stroke="#c0c0ff" stroke-width="0.9"/><line x1="1056.90" y1="1285.96" x2="1069.50" y2="1285.96" stroke="#c0c0ff" stroke-width="0.9"/><line x1="1056.90" y1="1274.15" x2="1069.50" y2="1274.15" stroke="#c0c0ff" stroke-width="0.9"/><line x1="1056.90" y1="1250.53" x2="1069.50" y2="1250.53" stroke="#c0c0ff" stroke-width="0.9"/><line x1="1056.90" y1="1238.71" x2="1069.50" y2="1238.71" stroke="#c0c0ff" stroke-width="0.9"/><line x1="1056.90" y1="1226.90" x2="1069.50" y2="1226.90" stroke="#c0c0ff" stroke-width="0.9"/><line x1="1056.90" y1="1215.09" x2="1069.50" y2="1215.09" stroke="#c0c0ff" stroke-width="0.9"/><line x1="1056.90" y1="1191.46" x2="1069.50" y2="1191.46" stroke="#c0c0ff" stroke-width="0.9"/><line x1="1056.90" y1="1179.65" x2="1069.50" y2="1179.65" stroke="#c0c0ff" stroke-width="0.9"/><line x1="1056.90" y1="1167.84" x2="1069.50" y2="1167.84" stroke="#c0c0ff" stroke-width="0.9"/><line x1="1056.90" y1="1156.03" x2="1069.50" y2="1156.03" stroke="#c0c0ff" stroke-width="0.9"/><line x1="1056.90" y1="1132.40" x2="1069.50" y2="1132.40" stroke="#c0c0ff" stroke-width="0.9"/><line x1="1056.90" y1="1120.59" x2="1069.50" y2="1120.59" stroke="#c0c0ff" stroke-width="0.9"/><line x1="1056.90" y1="1108.78" x2="1069.50" y2="1108.78" stroke="#c0c0ff" stroke-width="0.9"/><line x1="1056.90" y1="1096.96" x2="1069.50" y2="1096.96" stroke="#c0c0ff" stroke-width="0.9"/><line x1="1056.90" y1="1073.34" x2="1069.50" y2="1073.34" stroke="#c0c0ff" stroke-width="0.9"/><line x1="1056.90" y1="1061.53" x2="1069.50" y2="1061.53" stroke="#c0c0ff" stroke-width="0.9"/><line x1="1056.90" y1="1049.71" x2="1069.50" y2="1049.71" stroke="#c0c0ff" stroke-width="0.9"/><line x1="1056.90" y1="1037.90" x2="1069.50" y2="1037.90" stroke="#c0c0ff" stroke-width="0.9"/><line x1="1056.90" y1="1014.28" x2="1069.50" y2="1014.28" stroke="#c0c0ff" stroke-width="0.9"/><line x1="1056.90" y1="1002.46" x2="1069.50" y2="1002.46" stroke="#c0c0ff" stroke-width="0.9"/><line x1="1056.90" y1="990.65" x2="1069.50" y2="990.65" stroke="#c0c0ff" stroke-width="0.9"/><line x1="1056.90" y1="978.84" x2="1069.50" y2="978.84" stroke="#c0c0ff" stroke-width="0.9"/><line x1="1056.90" y1="955.21" x2="1069.50" y2="955.21" stroke="#c0c0ff" stroke-width="0.9"/><line x1="1056.90" y1="943.40" x2="1069.50" y2="943.40" stroke="#c0c0ff" stroke-width="0.9"/><line x1="1056.90" y1="931.59" x2="1069.50" y2="931.59" stroke="#c0c0ff" stroke-width="0.9"/><line x1="1056.90" y1="919.78" x2="1069.50" y2="919.78" stroke="#c0c0ff" stroke-width="0.9"/><line x1="1056.90" y1="896.15" x2="1069.50" y2="896.15" stroke="#c0c0ff" stroke-width="0.9"/><line x1="1056.90" y1="884.34" x2="1069.50" y2="884.34" stroke="#c0c0ff" stroke-width="0.9"/><line x1="1056.90" y1="872.53" x2="1069.50" y2="872.53" stroke="#c0c0ff" stroke-width="0.9"/><line x1="1056.90" y1="860.71" x2="1069.50" y2="860.71" stroke="#c0c0ff" stroke-width="0.9"/><line x1="177.45" y1="848.90" x2="1063.20" y2="848.90" stroke="#606060" stroke-width="1.3"/><line x1="176.95" y1="848.90" x2="1063.20" y2="848.90" stroke="#c8c8ff" stroke-width="1.6" stroke-dasharray="10.3 6.23"/><line x1="177.45" y1="1321.40" x2="1063.20" y2="1321.40" stroke="#606060" stroke-width="1.3"/><line x1="176.95" y1="1321.40" x2="1063.20" y2="1321.40" stroke="#c8c8ff" stroke-width="1.6" stroke-dasharray="10.3 6.23"/><line x1="176.95" y1="967.03" x2="1063.20" y2="967.03" stroke="#c8c8ff" stroke-width="1.6" stroke-dasharray="10.3 6.23"/><line x1="176.95" y1="1085.15" x2="1063.20" y2="1085.15" stroke="#c8c8ff" stroke-width="1.6" stroke-dasharray="10.3 6.23"/><line x1="176.95" y1="1203.28" x2="1063.20" y2="1203.28" stroke="#c8c8ff" stroke-width="1.6" stroke-dasharray="10.3 6.23"/><line x1="177.45" y1="848.90" x2="177.45" y2="1321.40" stroke="#6666ff" stroke-width="2.6"/><line x1="354.60" y1="848.90" x2="354.60" y2="1321.40" stroke="#6666ff" stroke-width="2.6"/><line x1="531.75" y1="848.90" x2="531.75" y2="1321.40" stroke="#6666ff" stroke-width="2.6"/><line x1="708.90" y1="848.90" x2="708.90" y2="1321.40" stroke="#6666ff" stroke-width="2.6"/><line x1="886.05" y1="848.90" x2="886.05" y2="1321.40" stroke="#6666ff" stroke-width="2.6"/><line x1="1063.20" y1="848.90" x2="1063.20" y2="1321.40" stroke="#6666ff" stroke-width="2.6"/><text x="143.88" y="1071.30" font-family='"Liberation Serif", serif' font-size="20.70" fill="#000" >10</text><text x="0" y="0" transform="matrix(1.3316 0 0 1 165.72 1063.10)" font-family='"Liberation Serif", serif' font-size="14.80" fill="#000" >−2</text><text x="187.32" y="1071.90" font-family='"Liberation Serif", serif' font-size="20.50" font-style="italic" fill="#000" >ω</text><text x="201.89" y="1074.90" font-family='"Liberation Serif", serif' font-size="14.80" fill="#000" >0</text><text x="321.03" y="1071.30" font-family='"Liberation Serif", serif' font-size="20.70" fill="#000" >10</text><text x="0" y="0" transform="matrix(1.3385 0 0 1 342.86 1063.10)" font-family='"Liberation Serif", serif' font-size="14.80" fill="#000" >−1</text><text x="364.47" y="1071.90" font-family='"Liberation Serif", serif' font-size="20.50" font-style="italic" fill="#000" >ω</text><text x="379.04" y="1074.90" font-family='"Liberation Serif", serif' font-size="14.80" fill="#000" >0</text><text x="520.12" y="1071.90" font-family='"Liberation Serif", serif' font-size="20.50" font-style="italic" fill="#000" >ω</text><text x="534.04" y="1074.90" font-family='"Liberation Serif", serif' font-size="14.80" fill="#000" >0</text><text x="682.18" y="1071.30" font-family='"Liberation Serif", serif' font-size="20.70" fill="#000" >10</text><text x="703.15" y="1063.10" font-family='"Liberation Serif", serif' font-size="14.80" fill="#000" >1</text><text x="711.97" y="1071.90" font-family='"Liberation Serif", serif' font-size="20.50" font-style="italic" fill="#000" >ω</text><text x="725.94" y="1074.90" font-family='"Liberation Serif", serif' font-size="14.80" fill="#000" >0</text><text x="859.33" y="1071.30" font-family='"Liberation Serif", serif' font-size="20.70" fill="#000" >10</text><text x="880.95" y="1063.10" font-family='"Liberation Serif", serif' font-size="14.80" fill="#000" >2</text><text x="889.12" y="1071.90" font-family='"Liberation Serif", serif' font-size="20.50" font-style="italic" fill="#000" >ω</text><text x="903.09" y="1074.90" font-family='"Liberation Serif", serif' font-size="14.80" fill="#000" >0</text><text x="1036.48" y="1071.30" font-family='"Liberation Serif", serif' font-size="20.70" fill="#000" >10</text><text x="1058.04" y="1063.10" font-family='"Liberation Serif", serif' font-size="14.80" fill="#000" >3</text><text x="1066.27" y="1071.90" font-family='"Liberation Serif", serif' font-size="20.50" font-style="italic" fill="#000" >ω</text><text x="1080.24" y="1074.90" font-family='"Liberation Serif", serif' font-size="14.80" fill="#000" >0</text><text x="123.53" y="842.40" font-family='"Liberation Serif", serif' font-size="21.30" fill="#000" >2</text><text x="117.20" y="842.40" font-family='"Liberation Serif", serif' font-size="21.30" fill="#000" >/</text><text x="105.39" y="842.40" font-family='"Liberation Serif", serif' font-size="21.30" font-style="italic" fill="#000" >π</text><text x="122.68" y="960.80" font-family='"Liberation Serif", serif' font-size="21.30" fill="#000" >4</text><text x="117.20" y="960.80" font-family='"Liberation Serif", serif' font-size="21.30" fill="#000" >/</text><text x="105.39" y="960.80" font-family='"Liberation Serif", serif' font-size="21.30" font-style="italic" fill="#000" >π</text><text x="104.79" y="1078.70" font-family='"Liberation Serif", serif' font-size="21.30" fill="#000" >0</text><text x="122.68" y="1196.90" font-family='"Liberation Serif", serif' font-size="21.30" fill="#000" >4</text><text x="117.20" y="1196.90" font-family='"Liberation Serif", serif' font-size="21.30" fill="#000" >/</text><text x="105.39" y="1196.90" font-family='"Liberation Serif", serif' font-size="21.30" font-style="italic" fill="#000" >π</text><text x="97.61" y="1196.90" font-family='"Liberation Serif", serif' font-size="21.30" fill="#000" >-</text><text x="123.53" y="1315.00" font-family='"Liberation Serif", serif' font-size="21.30" fill="#000" >2</text><text x="117.20" y="1315.00" font-family='"Liberation Serif", serif' font-size="21.30" fill="#000" >/</text><text x="105.39" y="1315.00" font-family='"Liberation Serif", serif' font-size="21.30" font-style="italic" fill="#000" >π</text><text x="97.61" y="1315.00" font-family='"Liberation Serif", serif' font-size="21.30" fill="#000" >-</text><polyline points="159.73,856.44 161.24,856.51 162.75,856.58 164.25,856.65 165.76,856.73 167.26,856.80 168.77,856.88 170.28,856.96 171.78,857.04 173.29,857.12 174.79,857.20 176.30,857.28 177.80,857.37 179.31,857.46 180.82,857.55 182.32,857.64 183.83,857.73 185.33,857.83 186.84,857.93 188.34,858.02 189.85,858.13 191.36,858.23 192.86,858.33 194.37,858.44 195.87,858.55 197.38,858.66 198.89,858.77 200.39,858.89 201.90,859.01 203.40,859.13 204.91,859.25 206.41,859.38 207.92,859.50 209.43,859.63 210.93,859.77 212.44,859.90 213.94,860.04 215.45,860.18 216.95,860.32 218.46,860.47 219.97,860.62 221.47,860.77 222.98,860.93 224.48,861.08 225.99,861.25 227.49,861.41 229.00,861.58 230.51,861.75 232.01,861.92 233.52,862.10 235.02,862.28 236.53,862.47 238.04,862.66 239.54,862.85 241.05,863.04 242.55,863.24 244.06,863.45 245.56,863.65 247.07,863.87 248.58,864.08 250.08,864.30 251.59,864.53 253.09,864.76 254.60,864.99 256.10,865.23 257.61,865.47 259.12,865.72 260.62,865.97 262.13,866.23 263.63,866.49 265.14,866.75 266.65,867.03 268.15,867.30 269.66,867.59 271.16,867.88 272.67,868.17 274.17,868.47 275.68,868.78 277.19,869.09 278.69,869.41 280.20,869.73 281.70,870.06 283.21,870.40 284.71,870.74 286.22,871.09 287.73,871.45 289.23,871.81 290.74,872.18 292.24,872.56 293.75,872.94 295.25,873.34 296.76,873.74 298.27,874.15 299.77,874.56 301.28,874.98 302.78,875.42 304.29,875.86 305.80,876.30 307.30,876.76 308.81,877.23 310.31,877.70 311.82,878.19 313.32,878.68 314.83,879.18 316.34,879.69 317.84,880.21 319.35,880.75 320.85,881.29 322.36,881.84 323.86,882.40 325.37,882.97 326.88,883.55 328.38,884.15 329.89,884.75 331.39,885.37 332.90,886.00 334.40,886.64 335.91,887.29 337.42,887.95 338.92,888.62 340.43,889.31 341.93,890.01 343.44,890.72 344.95,891.45 346.45,892.19 347.96,892.94 349.46,893.70 350.97,894.48 352.47,895.27 353.98,896.08 355.49,896.90 356.99,897.74 358.50,898.59 360.00,899.45 361.51,900.33 363.01,901.22 364.52,902.13 366.03,903.06 367.53,904.00 369.04,904.95 370.54,905.93 372.05,906.91 373.56,907.92 375.06,908.94 376.57,909.98 378.07,911.03 379.58,912.10 381.08,913.19 382.59,914.29 384.10,915.42 385.60,916.55 387.11,917.71 388.61,918.88 390.12,920.07 391.62,921.28 393.13,922.51 394.64,923.75 396.14,925.02 397.65,926.29 399.15,927.59 400.66,928.91 402.16,930.24 403.67,931.59 405.18,932.96 406.68,934.34 408.19,935.75 409.69,937.17 411.20,938.60 412.71,940.06 414.21,941.53 415.72,943.02 417.22,944.53 418.73,946.05 420.23,947.59 421.74,949.15 423.25,950.72 424.75,952.31 426.26,953.91 427.76,955.53 429.27,957.17 430.77,958.82 432.28,960.48 433.79,962.16 435.29,963.85 436.80,965.56 438.30,967.28 439.81,969.01 441.31,970.75 442.82,972.51 444.33,974.28 445.83,976.06 447.34,977.85 448.84,979.65 450.35,981.47 451.86,983.29 453.36,985.12 454.87,986.96 456.37,988.81 457.88,990.67 459.38,992.53 460.89,994.40 462.40,996.28 463.90,998.17 465.41,1000.06 466.91,1001.96 468.42,1003.86 469.92,1005.77 471.43,1007.68 472.94,1009.59 474.44,1011.51 475.95,1013.44 477.45,1015.36 478.96,1017.29 480.47,1019.22 481.97,1021.15 483.48,1023.09 484.98,1025.03 486.49,1026.96 487.99,1028.90 489.50,1030.84 491.01,1032.78 492.51,1034.72 494.02,1036.66 495.52,1038.61 497.03,1040.55 498.53,1042.49 500.04,1044.43 501.55,1046.37 503.05,1048.31 504.56,1050.25 506.06,1052.18 507.57,1054.12 509.07,1056.06 510.58,1058.00 512.09,1059.93 513.59,1061.87 515.10,1063.80 516.60,1065.73 518.11,1067.67 519.62,1069.60 521.12,1071.53 522.63,1073.46 524.13,1075.39 525.64,1077.32 527.14,1079.25 528.65,1081.18 530.16,1083.11 531.66,1085.04 533.17,1086.97 534.67,1088.89 536.18,1090.82 537.68,1092.75 539.19,1094.68 540.70,1096.61 542.20,1098.54 543.71,1100.48 545.21,1102.41 546.72,1104.34 548.22,1106.27 549.73,1108.21 551.24,1110.14 552.74,1112.08 554.25,1114.01 555.75,1115.95 557.26,1117.89 558.77,1119.83 560.27,1121.76 561.78,1123.70 563.28,1125.64 564.79,1127.58 566.29,1129.52 567.80,1131.47 569.31,1133.41 570.81,1135.35 572.32,1137.29 573.82,1139.23 575.33,1141.17 576.83,1143.11 578.34,1145.05 579.85,1146.98 581.35,1148.92 582.86,1150.85 584.36,1152.78 585.87,1154.71 587.38,1156.64 588.88,1158.56 590.39,1160.48 591.89,1162.40 593.40,1164.31 594.90,1166.22 596.41,1168.12 597.92,1170.02 599.42,1171.91 600.93,1173.80 602.43,1175.68 603.94,1177.55 605.44,1179.42 606.95,1181.27 608.46,1183.12 609.96,1184.96 611.47,1186.80 612.97,1188.62 614.48,1190.43 615.98,1192.24 617.49,1194.03 619.00,1195.81 620.50,1197.58 622.01,1199.34 623.51,1201.09 625.02,1202.82 626.53,1204.54 628.03,1206.25 629.54,1207.94 631.04,1209.62 632.55,1211.29 634.05,1212.94 635.56,1214.58 637.07,1216.20 638.57,1217.80 640.08,1219.39 641.58,1220.97 643.09,1222.53 644.59,1224.07 646.10,1225.59 647.61,1227.10 649.11,1228.59 650.62,1230.07 652.12,1231.52 653.63,1232.97 655.13,1234.39 656.64,1235.79 658.15,1237.18 659.65,1238.55 661.16,1239.90 662.66,1241.24 664.17,1242.55 665.68,1243.85 667.18,1245.14 668.69,1246.40 670.19,1247.64 671.70,1248.87 673.20,1250.08 674.71,1251.28 676.22,1252.45 677.72,1253.61 679.23,1254.75 680.73,1255.88 682.24,1256.98 683.74,1258.07 685.25,1259.14 686.76,1260.20 688.26,1261.24 689.77,1262.26 691.27,1263.27 692.78,1264.26 694.29,1265.23 695.79,1266.19 697.30,1267.13 698.80,1268.06 700.31,1268.97 701.81,1269.87 703.32,1270.75 704.83,1271.61 706.33,1272.46 707.84,1273.30 709.34,1274.12 710.85,1274.93 712.35,1275.73 713.86,1276.51 715.37,1277.27 716.87,1278.03 718.38,1278.77 719.88,1279.49 721.39,1280.21 722.89,1280.91 724.40,1281.60 725.91,1282.27 727.41,1282.94 728.92,1283.59 730.42,1284.23 731.93,1284.86 733.44,1285.47 734.94,1286.08 736.45,1286.68 737.95,1287.26 739.46,1287.83 740.96,1288.40 742.47,1288.95 743.98,1289.49 745.48,1290.02 746.99,1290.55 748.49,1291.06 750.00,1291.56 751.50,1292.06 753.01,1292.54 754.52,1293.02 756.02,1293.48 757.53,1293.94 759.03,1294.39 760.54,1294.83 762.04,1295.26 763.55,1295.69 765.06,1296.11 766.56,1296.51 768.07,1296.92 769.57,1297.31 771.08,1297.70 772.59,1298.07 774.09,1298.45 775.60,1298.81 777.10,1299.17 778.61,1299.52 780.11,1299.86 781.62,1300.20 783.13,1300.53 784.63,1300.86 786.14,1301.17 787.64,1301.49 789.15,1301.79 790.65,1302.09 792.16,1302.39 793.67,1302.68 795.17,1302.96 796.68,1303.24 798.18,1303.51 799.69,1303.78 801.20,1304.04 802.70,1304.30 804.21,1304.55 805.71,1304.80 807.22,1305.05 808.72,1305.28 810.23,1305.52 811.74,1305.75 813.24,1305.97 814.75,1306.19 816.25,1306.41 817.76,1306.62 819.26,1306.83 820.77,1307.03 822.28,1307.23 823.78,1307.43 825.29,1307.62 826.79,1307.81 828.30,1308.00 829.80,1308.18 831.31,1308.36 832.82,1308.53 834.32,1308.70 835.83,1308.87 837.33,1309.04 838.84,1309.20 840.35,1309.36 841.85,1309.51 843.36,1309.66 844.86,1309.81 846.37,1309.96 847.87,1310.10 849.38,1310.24 850.89,1310.38 852.39,1310.52 853.90,1310.65 855.40,1310.78 856.91,1310.91 858.41,1311.03 859.92,1311.16 861.43,1311.28 862.93,1311.40 864.44,1311.51 865.94,1311.63 867.45,1311.74 868.96,1311.85 870.46,1311.95 871.97,1312.06 873.47,1312.16 874.98,1312.26 876.48,1312.36 877.99,1312.46 879.50,1312.56 881.00,1312.65 882.51,1312.74 884.01,1312.83 885.52,1312.92 887.02,1313.01 888.53,1313.09 890.04,1313.17 891.54,1313.25 893.05,1313.33 894.55,1313.41 896.06,1313.49 897.56,1313.57 899.07,1313.64 900.58,1313.71 902.08,1313.78 903.59,1313.85 905.09,1313.92 906.60,1313.99 908.11,1314.05 909.61,1314.12 911.12,1314.18 912.62,1314.24 914.13,1314.30 915.63,1314.36 917.14,1314.42 918.65,1314.48 920.15,1314.54 921.66,1314.59 923.16,1314.65 924.67,1314.70 926.17,1314.75 927.68,1314.80 929.19,1314.85 930.69,1314.90 932.20,1314.95 933.70,1315.00 935.21,1315.04 936.71,1315.09 938.22,1315.13 939.73,1315.18 941.23,1315.22 942.74,1315.26 944.24,1315.30 945.75,1315.34 947.26,1315.38 948.76,1315.42 950.27,1315.46 951.77,1315.50 953.28,1315.53 954.78,1315.57 956.29,1315.60 957.80,1315.64 959.30,1315.67 960.81,1315.71 962.31,1315.74 963.82,1315.77 965.32,1315.80 966.83,1315.83 968.34,1315.86 969.84,1315.89 971.35,1315.92 972.85,1315.95 974.36,1315.98 975.87,1316.00 977.37,1316.03 978.88,1316.06 980.38,1316.08 981.89,1316.11 983.39,1316.13 984.90,1316.16 986.41,1316.18 987.91,1316.20 989.42,1316.23 990.92,1316.25 992.43,1316.27 993.93,1316.29 995.44,1316.31 996.95,1316.33 998.45,1316.35 999.96,1316.37 1001.46,1316.39 1002.97,1316.41 1004.47,1316.43 1005.98,1316.45 1007.49,1316.47 1008.99,1316.49 1010.50,1316.50 1012.00,1316.52 1013.51,1316.54 1015.02,1316.55 1016.52,1316.57 1018.03,1316.59 1019.53,1316.60 1021.04,1316.62 1022.54,1316.63 1024.05,1316.65 1025.56,1316.66 1027.06,1316.67 1028.57,1316.69 1030.07,1316.70 1031.58,1316.71 1033.08,1316.73 1034.59,1316.74 1036.10,1316.75 1037.60,1316.77 1039.11,1316.78 1040.61,1316.79 1042.12,1316.80 1043.62,1316.81 1045.13,1316.82 1046.64,1316.83 1048.14,1316.84 1049.65,1316.85 1051.15,1316.87 1052.66,1316.88 1054.17,1316.88 1055.67,1316.89 1057.18,1316.90 1058.68,1316.91 1060.19,1316.92 1061.69,1316.93 1063.20,1316.94" fill="none" stroke="#bf8040" stroke-width="3.7" stroke-linejoin="round"/><text transform="translate(1196.9 1378.38) rotate(-90)" font-family='"Liberation Serif", serif' font-size="37.35" fill="#d79aea">Physique - Chimie - CPGE TSI - Établissement Saint Joseph - LaSalle</text><polygon points="1166.21,269.15 1168.39,272.29 1169.36,276.16 1169.72,280.52 1169.11,283.42 1167.42,285.36 1163.07,287.29 1167.42,289.23 1169.60,290.92 1169.36,292.37 1166.94,292.62 1163.55,290.44 1152.18,287.90 1152.06,287.29 1163.31,284.39 1165.97,282.94 1165.97,273.26" fill="#fbb616"/><polygon points="1166.21,269.15 1168.39,272.29 1168.99,275.92 1165.97,275.92 1165.97,273.26" fill="#a9c84c"/><polygon points="1166.29,293.87 1169.68,292.42 1168.87,299.03 1174.19,292.58 1175.48,292.10 1178.06,293.23 1182.26,294.68 1183.87,298.39 1176.77,295.16 1174.84,294.52 1169.68,300.65 1163.23,309.35 1164.84,300.65" fill="#e5087a"/><polygon points="1176.77,293.06 1182.26,294.68 1183.87,298.39 1181.94,297.58 1176.77,295.16" fill="#ee6aa6"/><polygon points="1180.16,284.84 1182.58,283.55 1181.29,287.10 1196.77,302.26 1196.77,302.90 1184.52,298.87 1182.90,295.48 1186.77,295.16 1180.00,288.39" fill="#0b6cb4"/><polygon points="1180.16,284.84 1182.58,283.23 1184.03,283.06 1182.26,286.77 1180.65,287.10" fill="#6d93c8"/><polygon points="1180.49,283.54 1182.80,276.83 1188.88,272.85 1183.64,283.12" fill="#95c11f"/><text transform="translate(1175.50 289.00) rotate(-90)" font-family='"Liberation Sans", sans-serif' font-weight="bold" font-size="6.45" stroke="#000" stroke-width="0.35" textLength="36" lengthAdjust="spacingAndGlyphs">Saint Joseph</text><text transform="translate(1184.10 273.90) rotate(-90)" font-family='"Liberation Sans", sans-serif' font-weight="bold" font-size="8.4" stroke="#000" stroke-width="0.3" textLength="22" lengthAdjust="spacingAndGlyphs">La Salle</text><text transform="translate(1189.90 271.80) rotate(-90)" font-family='"Liberation Sans", sans-serif' font-weight="bold" font-size="4.8" stroke="#000" stroke-width="0.3" textLength="16" lengthAdjust="spacingAndGlyphs">LYCÉE</text><polygon points="1166.51,1418.05 1168.69,1421.19 1169.66,1425.06 1170.02,1429.42 1169.41,1432.32 1167.72,1434.26 1163.37,1436.19 1167.72,1438.13 1169.90,1439.82 1169.66,1441.27 1167.24,1441.52 1163.85,1439.34 1152.48,1436.80 1152.36,1436.19 1163.61,1433.29 1166.27,1431.84 1166.27,1422.16" fill="#fbb616"/><polygon points="1166.51,1418.05 1168.69,1421.19 1169.29,1424.82 1166.27,1424.82 1166.27,1422.16" fill="#a9c84c"/><polygon points="1166.59,1442.77 1169.98,1441.32 1169.17,1447.93 1174.49,1441.48 1175.78,1441.00 1178.36,1442.13 1182.56,1443.58 1184.17,1447.29 1177.07,1444.06 1175.14,1443.42 1169.98,1449.55 1163.53,1458.25 1165.14,1449.55" fill="#e5087a"/><polygon points="1177.07,1441.96 1182.56,1443.58 1184.17,1447.29 1182.24,1446.48 1177.07,1444.06" fill="#ee6aa6"/><polygon points="1180.46,1433.74 1182.88,1432.45 1181.59,1436.00 1197.07,1451.16 1197.07,1451.80 1184.82,1447.77 1183.20,1444.38 1187.07,1444.06 1180.30,1437.29" fill="#0b6cb4"/><polygon points="1180.46,1433.74 1182.88,1432.13 1184.33,1431.96 1182.56,1435.67 1180.95,1436.00" fill="#6d93c8"/><polygon points="1180.79,1432.44 1183.10,1425.73 1189.18,1421.75 1183.94,1432.02" fill="#95c11f"/><text transform="translate(1175.80 1437.90) rotate(-90)" font-family='"Liberation Sans", sans-serif' font-weight="bold" font-size="6.45" stroke="#000" stroke-width="0.35" textLength="36" lengthAdjust="spacingAndGlyphs">Saint Joseph</text><text transform="translate(1184.40 1422.80) rotate(-90)" font-family='"Liberation Sans", sans-serif' font-weight="bold" font-size="8.4" stroke="#000" stroke-width="0.3" textLength="22" lengthAdjust="spacingAndGlyphs">La Salle</text><text transform="translate(1190.20 1420.70) rotate(-90)" font-family='"Liberation Sans", sans-serif' font-weight="bold" font-size="4.8" stroke="#000" stroke-width="0.3" textLength="16" lengthAdjust="spacingAndGlyphs">LYCÉE</text><text x="176.59" y="1718.10" font-family='"Liberation Serif", serif' font-size="16.60" fill="#000" >Saint Joseph - LaSalle</text><text x="991.33" y="1718.00" font-family='"Liberation Serif", serif' font-size="16.50" fill="#000" >CPGE TSI</text></svg>
</body></html>
